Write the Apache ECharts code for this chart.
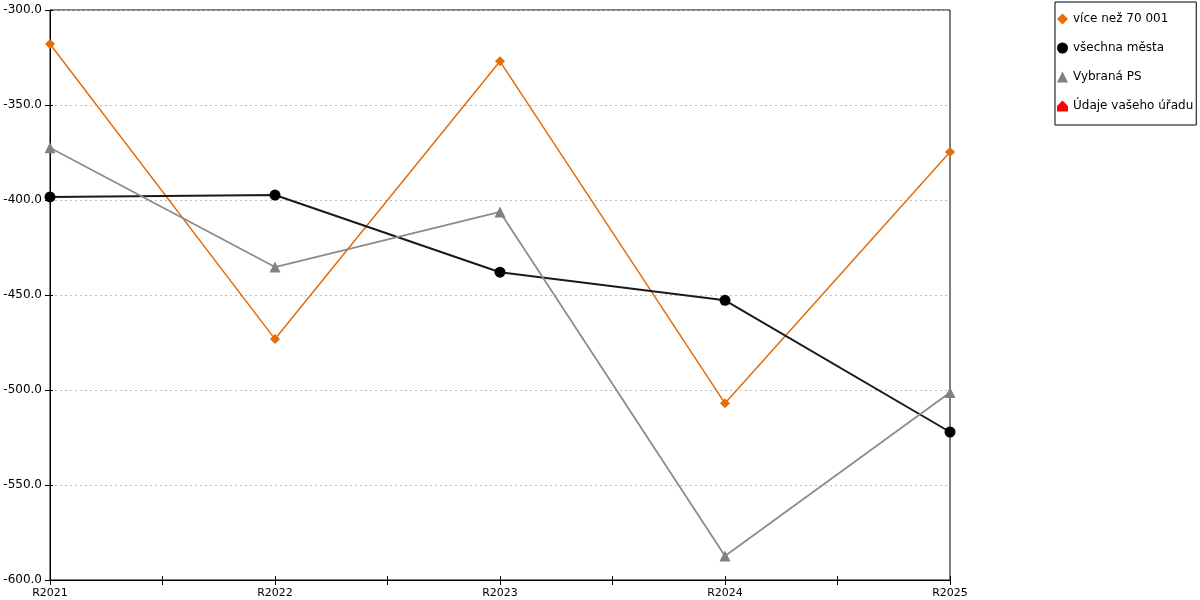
<!DOCTYPE html>
<html>
<head>
<meta charset="utf-8">
<script src="https://cdn.jsdelivr.net/npm/echarts@6/dist/echarts.min.js"></script>
<style>
  html, body { margin: 0; padding: 0; background: #fff; }
  #chart { width: 1200px; height: 600px; }
</style>
</head>
<body>
<div id="chart"></div>
<script>
// roky na ose x
const categories = ['R2021', 'R2022', 'R2023', 'R2024', 'R2025'];

const nad70001 = [-317.9, -473.2, -327.0, -507.0, -374.7];
const vsechnaMesta = [-398.4, -397.4, -438.0, -452.8, -522.1];
const vybranaPS = [-372.5, -435.3, -406.3, -587.4, -501.3];
const vasUrad = [];

const yMin = -600, yMax = -300, yStep = 50;

const toPoints = arr => arr.map((v, i) => [i, v]);
const font = 'DejaVu Sans';
const house = 'path://M5,0 L10,5 L10,10 L0,10 L0,5 Z';

const chart = echarts.init(document.getElementById('chart'));

const baseX = {
  type: 'value', min: 0, max: categories.length - 1, interval: 0.5,
  splitLine: { show: false }
};
const baseY = {
  type: 'value', min: yMin, max: yMax, interval: yStep
};

chart.setOption({
  animation: false,
  textStyle: { fontFamily: font },
  grid: {
    left: 50, right: 250, top: 10, bottom: 20,
    show: true, borderColor: '#000', borderWidth: 1, backgroundColor: 'transparent'
  },
  legend: {
    orient: 'vertical',
    left: 1055, top: 2,
    padding: [11, 3, 13, 2],
    itemGap: 17,
    itemWidth: 11, itemHeight: 11,
    borderColor: '#000', borderWidth: 1,
    textStyle: { fontFamily: font, fontSize: 12, color: '#000' },
    data: [
      { name: 'více než 70 001', icon: 'diamond' },
      { name: 'všechna města', icon: 'circle' },
      { name: 'Vybraná PS', icon: 'triangle' },
      { name: 'Údaje vašeho úřadu', icon: house }
    ]
  },
  xAxis: [
    Object.assign({}, baseX, {
      axisLine: { lineStyle: { color: '#000' } },
      axisTick: { length: 5, lineStyle: { color: '#000' } },
      axisLabel: {
        fontFamily: font, fontSize: 11, color: '#000', margin: 8,
        formatter: v => Number.isInteger(v) ? categories[v] : ''
      }
    }),
    Object.assign({}, baseX, {
      position: 'bottom',
      axisLine: { show: false },
      axisTick: { inside: true, length: 4, lineStyle: { color: '#000' } },
      axisLabel: { show: false }
    })
  ],
  yAxis: [
    Object.assign({}, baseY, {
      axisLine: { show: true, lineStyle: { color: '#000' } },
      axisTick: { show: true, length: 5, lineStyle: { color: '#000' } },
      axisLabel: {
        fontFamily: font, fontSize: 12, color: '#000', margin: 8,
        formatter: v => v.toFixed(1)
      },
      splitLine: { lineStyle: { color: '#bdbdbd', type: [2, 3], width: 1 } }
    }),
    Object.assign({}, baseY, {
      position: 'left',
      axisLine: { show: false },
      axisTick: { show: true, inside: true, length: 3, lineStyle: { color: '#000' } },
      axisLabel: { show: false },
      splitLine: { show: false }
    })
  ],
  series: [
    {
      name: 'více než 70 001', type: 'line', data: toPoints(nad70001),
      symbol: 'diamond', symbolSize: 10,
      itemStyle: { color: '#E46C0A' },
      lineStyle: { color: '#E46C0A', width: 1.5 }
    },
    {
      name: 'všechna města', type: 'line', data: toPoints(vsechnaMesta),
      symbol: 'circle', symbolSize: 11,
      itemStyle: { color: '#000' },
      lineStyle: { color: '#1a1a1a', width: 2 }
    },
    {
      name: 'Vybraná PS', type: 'line', data: toPoints(vybranaPS),
      symbol: 'triangle', symbolSize: 11,
      itemStyle: { color: '#808080' },
      lineStyle: { color: '#8c8c8c', width: 1.8 }
    },
    {
      name: 'Údaje vašeho úřadu', type: 'line', data: toPoints(vasUrad),
      symbol: house, symbolSize: 11,
      itemStyle: { color: '#ff0000' },
      lineStyle: { color: '#ff0000', width: 2 }
    }
  ]
});
</script>
</body>
</html>
